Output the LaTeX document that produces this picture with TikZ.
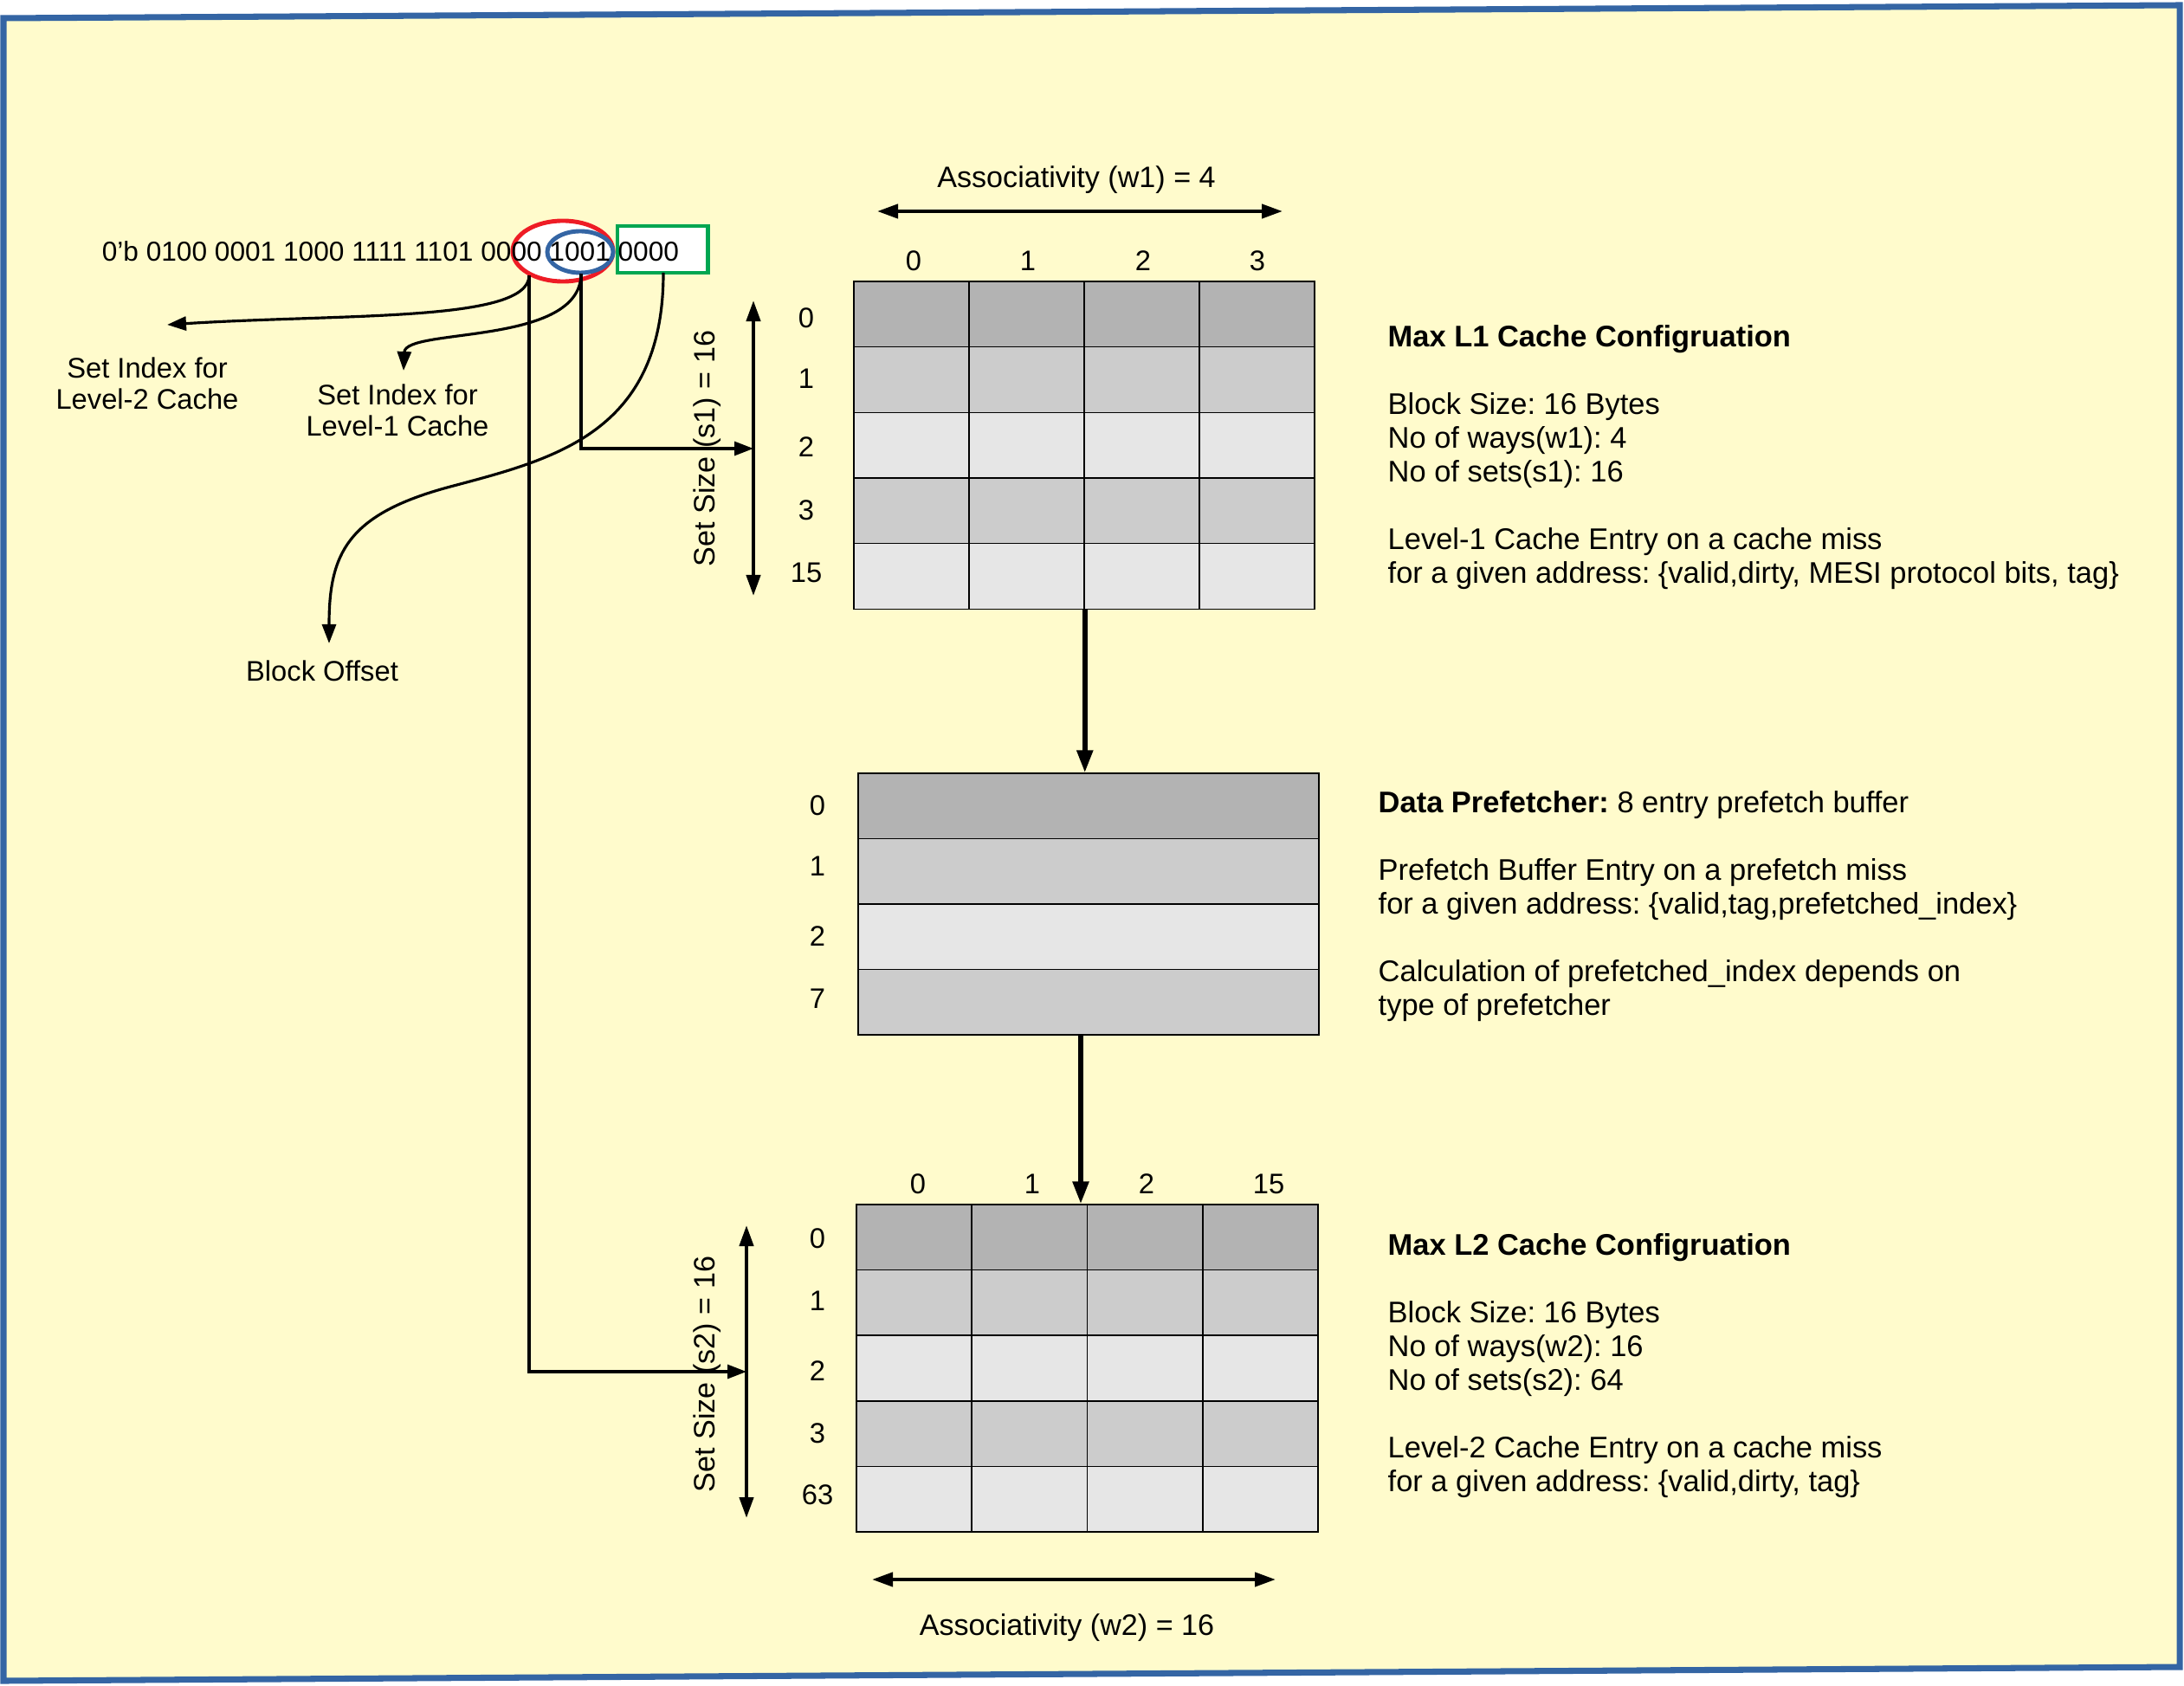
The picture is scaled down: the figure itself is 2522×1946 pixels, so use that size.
\documentclass[tikz,border=0pt]{standalone}
\usepackage{fontspec}
\setmainfont{Liberation Sans}
\frenchspacing
\usetikzlibrary{arrows.meta,shapes.geometric}
\definecolor{paper}{HTML}{FFFBCC}
\definecolor{frameblue}{HTML}{3465A4}
\definecolor{markred}{HTML}{EE1C25}
\definecolor{markgreen}{HTML}{00A651}
\definecolor{rowdark}{HTML}{B3B3B3}
\definecolor{rowmid}{HTML}{CCCCCC}
\definecolor{rowlight}{HTML}{E6E6E6}
\begin{document}
\begin{tikzpicture}[x=0.01cm,y=-0.01cm,
  every node/.style={font=\fontsize{9.3}{10.3}\selectfont,inner sep=0pt},
  axislbl/.style={font=\fontsize{9.7}{10.7}\selectfont},
  info/.style={anchor=base west,align=left,font=\fontsize{9.8}{11.07}\selectfont},
  cell/.style={draw=black,line width=0.4pt,minimum width=1.33cm,minimum height=0.756cm},
  tip/.style={-{Triangle[length=0.22cm,width=0.16cm]}},
  both/.style={{Triangle[length=0.24cm,width=0.16cm]}-{Triangle[length=0.24cm,width=0.16cm]},line width=1.2pt},
  wire/.style={line width=0.9pt},
  flow/.style={line width=1.6pt,-{Triangle[length=0.26cm,width=0.18cm]}}]
  \useasboundingbox (0,0) rectangle (2522,1946);

  % frame
  \fill[white] (0,0) rectangle (2522,1946);
  \filldraw[fill=paper,draw=frameblue,line width=2pt]
    (4,21) -- (2517,6) -- (2517,1925) -- (4,1941) -- cycle;

  % address bits
  \node[ellipse,draw=markred,fill=white,line width=1.4pt,
    minimum width=1.16cm,minimum height=0.70cm] (l2set) at (650,290) {};
  \node[ellipse,draw=frameblue,fill=white,line width=1.4pt,
    minimum width=0.76cm,minimum height=0.48cm] (l1set) at (670,291) {};
  \node[draw=markgreen,fill=white,line width=1.4pt,
    minimum width=1.04cm,minimum height=0.54cm] (offset) at (765,288) {};
  \node[font=\fontsize{9}{10}\selectfont] (addr) at (451,290)
    {0’b 0100 0001 1000 1111 1101 0000 1001 0000};

  \coordinate (l2top) at (611,318);
  \coordinate (l1top) at (671,316);
  \coordinate (offtop) at (766,315);

  \draw[wire,tip] (l2top) .. controls (611,372) and (400,362) .. (193,375);
  \draw[wire,tip] (l1top) .. controls (671,400) and (468,378) .. (466,428);
  \draw[wire,tip] (offtop) .. controls (766,500) and (640,530) .. (520,562)
    .. controls (400,594) and (380,640) .. (380,743);

  \node[align=center] (l2lbl) at (170,443) {Set Index for\\Level-2 Cache};
  \node[align=center] (l1lbl) at (459,474) {Set Index for\\Level-1 Cache};
  \node (offlbl) at (372,775) {Block Offset};

  % L1 cache
  \foreach \r/\shade in {0/rowdark,1/rowmid,2/rowlight,3/rowmid,4/rowlight}
    \foreach \c in {0,...,3}
      \node[cell,fill=\shade] (l1-\r-\c) at ({1052.5+133*\c},{363+75.6*\r}) {};
  \foreach \c/\x in {0/1055,1/1187,2/1320,3/1452}
    \node at (\x,301) {\c};
  \foreach \lab/\y in {0/367,1/437,2/516,3/589,15/661}
    \node at (931,\y) {\lab};

  \coordinate (w1l) at (1013,244);
  \coordinate (w1r) at (1481,244);
  \draw[both] (w1l) -- (w1r);
  \node[axislbl] (w1lbl) at (1243,208) {Associativity (w1) = 4};

  \coordinate (s1top) at (870,347);
  \coordinate (s1bot) at (870,688);
  \coordinate (l1hit) at (870,518);
  \draw[both] (s1top) -- (s1bot);
  \draw[wire,tip] (l1top) |- (l1hit);
  \node[axislbl,rotate=90] (s1lbl) at (817,518) {Set Size (s1) = 16};

  \node[info] (l1info) at (1602,673) {\textbf{Max L1 Cache Configruation}\\[11.07pt]
    Block Size: 16 Bytes\\No of ways(w1): 4\\No of sets(s1): 16\\[11.07pt]
    Level-1 Cache Entry on a cache miss\\
    for a given address: \{valid,dirty, MESI protocol bits, tag\}};

  % prefetch buffer
  \foreach \r/\shade in {0/rowdark,1/rowmid,2/rowlight,3/rowmid}
    \node[cell,fill=\shade,minimum width=5.32cm] (pf-\r) at (1257,{930.8+75.5*\r}) {};
  \foreach \lab/\y in {0/930,1/1000,2/1081,7/1153}
    \node at (944,\y) {\lab};
  \draw[flow] (l1-4-1.south east) -- (l1-4-1.south east |- pf-0.north);

  \node[info] (pfinfo) at (1591,1172) {\textbf{Data Prefetcher:} 8 entry prefetch buffer\\[11.07pt]
    Prefetch Buffer Entry on a prefetch miss\\
    for a given address: \{valid,tag,prefetched\_index\}\\[11.07pt]
    Calculation of prefetched\_index depends on\\type of prefetcher};

  % L2 cache
  \foreach \r/\shade in {0/rowdark,1/rowmid,2/rowlight,3/rowmid,4/rowlight}
    \foreach \c in {0,...,3}
      \node[cell,fill=\shade] (l2-\r-\c) at ({1055.6+133.25*\c},{1428.8+75.6*\r}) {};
  \foreach \c/\x in {0/1060,1/1192,2/1324,15/1465}
    \node at (\x,1367) {\c};
  \foreach \lab/\y in {0/1430,1/1502,2/1583,3/1655,63/1726}
    \node at (944,\y) {\lab};
  \draw[flow] ([xshift=-0.09cm]pf-3.south) -- ([xshift=-0.09cm]pf-3.south |- l2-0-1.north);

  \coordinate (w2l) at (1007,1824);
  \coordinate (w2r) at (1473,1824);
  \draw[both] (w2l) -- (w2r);
  \node[axislbl] (w2lbl) at (1232,1880) {Associativity (w2) = 16};

  \coordinate (s2top) at (862,1415);
  \coordinate (s2bot) at (862,1753);
  \coordinate (l2hit) at (862,1584);
  \draw[both] (s2top) -- (s2bot);
  \draw[wire,tip] (l2top) |- (l2hit);
  \node[axislbl,rotate=90] (s2lbl) at (817,1587) {Set Size (s2) = 16};

  \node[info] (l2info) at (1602,1722) {\textbf{Max L2 Cache Configruation}\\[11.07pt]
    Block Size: 16 Bytes\\No of ways(w2): 16\\No of sets(s2): 64\\[11.07pt]
    Level-2 Cache Entry on a cache miss\\
    for a given address: \{valid,dirty, tag\}};
\end{tikzpicture}
\end{document}
